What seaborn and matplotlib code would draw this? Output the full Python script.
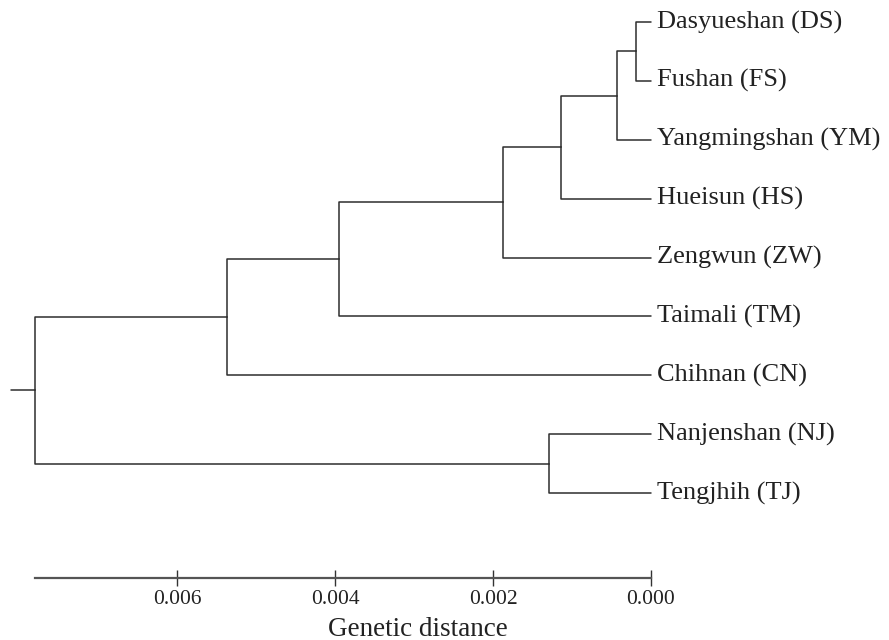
import matplotlib
matplotlib.use("Agg")
import matplotlib.pyplot as plt
import seaborn as sns
import pandas as pd

# leaves, top to bottom
leaves = ["Dasyueshan (DS)", "Fushan (FS)", "Yangmingshan (YM)", "Hueisun (HS)",
          "Zengwun (ZW)", "Taimali (TM)", "Chihnan (CN)", "Nanjenshan (NJ)", "Tengjhih (TJ)"]

# merges (scipy style: leaves are 0-8, new clusters numbered 9, 10, ...)
merge_a = [0, 9, 10, 11, 12, 13, 7, 14]
merge_b = [1, 2, 3, 4, 5, 6, 8, 15]
merge_height = [0.00019, 0.00043, 0.00114, 0.00187, 0.00395, 0.00537, 0.00129, 0.0078]
root_stub = 0.0081

ticks = [0.006, 0.004, 0.002, 0.000]


def build_segments():
    pos = {i: (0.0, float(i)) for i in range(len(leaves))}
    rows = []
    seg = 0
    for k, (a, b, h) in enumerate(zip(merge_a, merge_b, merge_height)):
        ya = pos[a][1]
        yb = pos[b][1]
        ym = (ya + yb) / 2
        for c in (a, b):
            cx, cy = pos[c]
            rows += [(seg, cx, cy), (seg, h, cy), (seg, h, ym)]
            seg += 1
        pos[len(leaves) + k] = (h, ym)
    rx, ry = pos[len(leaves) + len(merge_height) - 1]
    rows += [(seg, rx, ry), (seg, root_stub, ry)]
    return pd.DataFrame(rows, columns=["seg", "dist", "y"])


sns.set_style("white")
plt.rcParams["font.family"] = ["Liberation Serif", "DejaVu Serif"]

fig = plt.figure(figsize=(8.89, 6.40), dpi=100)
ax = fig.add_axes([0, 1 - 578 / 640, 1, 578 / 640])

df = build_segments()
sns.lineplot(data=df, x="dist", y="y", units="seg", estimator=None, sort=False,
             color="#2e2e2e", linewidth=1.1, ax=ax, legend=False)

for i, name in enumerate(leaves):
    ax.text(-0.00007, i, name, va="center", ha="left", fontsize=19, color="#222222")

ax.set_xlim(651 / 79 * 0.001, -(889 - 651) / 79 * 0.001)
ax.set_ylim((578 - 22) / 58.875, -22 / 58.875)

for s in ["left", "top", "right"]:
    ax.spines[s].set_visible(False)
ax.spines["bottom"].set_bounds(merge_height[-1], 0.0)
ax.spines["bottom"].set_color("#555555")
ax.spines["bottom"].set_linewidth(1.6)
ax.set_yticks([])
ax.set_xticks(ticks)
ax.set_xticklabels([f"{t:.3f}" for t in ticks], fontsize=15.5, color="#222222")
ax.tick_params(axis="x", bottom=True, direction="inout", length=11, width=1,
               color="#333333", pad=3)
ax.set_xlabel("Genetic distance", fontsize=19.5, color="#222222")
ax.xaxis.label.set_va("center")
ax.xaxis.set_label_coords(418 / 889, -(629 - 578) / 578)
ax.set_ylabel("")

fig.savefig("out.png", dpi=100)
